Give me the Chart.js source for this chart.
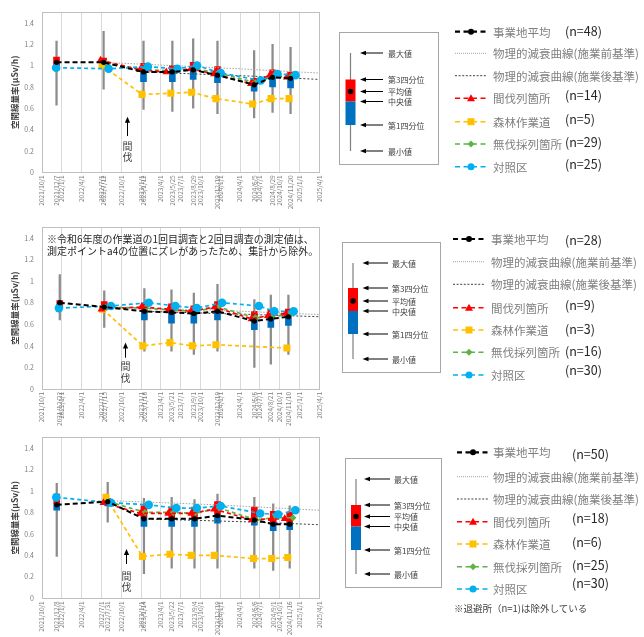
<!DOCTYPE html>
<html lang="ja"><head><meta charset="utf-8">
<script src="https://cdn.jsdelivr.net/npm/chart.js@4/dist/chart.umd.min.js"></script>
<style>
html,body{margin:0;padding:0;background:#fff}
body{width:644px;height:637px;position:relative;overflow:hidden;font-family:"Noto Sans CJK JP","Noto Sans",sans-serif}
canvas{position:absolute;left:0}
#note{position:absolute;left:47px;top:233px;font-size:10px;line-height:11.7px;color:#262626;white-space:nowrap}
#over{position:absolute;left:0;top:0;width:644px;height:637px;pointer-events:none}
</style></head><body>
<canvas id="c1" width="330" height="215" style="top:0"></canvas>
<canvas id="c2" width="330" height="212" style="top:215px"></canvas>
<canvas id="c3" width="330" height="212" style="top:425px"></canvas>
<div id="note"></div>
<div id="over"></div>
<script>
// ---------- data ----------
const quarterTicks = ['2021/10/1','2022/1/1','2022/4/1','2022/7/1','2022/10/1','2023/1/1','2023/4/1','2023/7/1','2023/10/1','2024/1/1','2024/4/1','2024/7/1','2024/10/1','2025/1/1','2025/4/1'];
const yTitle = '空間線量率(μSv/h)';
const thinText = ['間','伐'];
const noteLines = ['※令和6年度の作業道の1回目調査と2回目調査の測定値は、','測定ポイントa4の位置にズレがあったため、集計から除外。'];
const legendNames = ['事業地平均','物理的減衰曲線(施業前基準)','物理的減衰曲線(施業後基準)','間伐列箇所','森林作業道','無伐採列箇所','対照区'];
const boxKeyLabels = ['最大値','第3四分位','平均値','中央値','第1四分位','最小値'];
const footNote = '※退避所（n=1)は除外している';

// panel 1
const p1Dates = ['2021/12/7','2022/7/12','2023/1/12','2023/5/25','2023/8/29','2023/12/19','2024/6/5','2024/8/29','2024/11/20'];
const p1Max  = [1.23,1.32,1.23,1.23,1.25,1.23,1.14,1.20,1.17];
const p1Q3   = [1.08,1.07,1.02,1.00,1.03,0.99,0.88,0.96,0.94];
const p1Med  = [1.00,1.01,0.95,0.94,0.96,0.92,0.82,0.89,0.88];
const p1Q1   = [0.96,0.97,0.85,0.85,0.87,0.84,0.76,0.80,0.79];
const p1Min  = [0.63,0.78,0.59,0.57,0.60,0.55,0.51,0.56,0.55];
const p1Mean = [1.03,1.03,0.94,0.94,0.96,0.91,0.82,0.89,0.88];
const p1ThinDates = ['2022/6/28','2022/12/27','2023/4/27','2023/8/18','2023/12/3','2024/5/21','2024/8/16','2024/11/3'];
const p1Thin = [1.05,0.96,0.94,0.97,0.92,0.83,0.91,0.89];
const p1RoadDates = ['2022/7/5','2023/1/5','2023/5/18','2023/8/22','2023/12/12','2024/5/29','2024/8/22','2024/11/13'];
const p1Road = [1.00,0.73,0.74,0.75,0.69,0.64,0.69,0.69];
const p1NoCutDates = ['2022/7/25','2023/1/18','2023/5/30','2023/9/3','2023/12/24','2024/6/10','2024/9/3','2024/11/25'];
const p1NoCut = [1.02,0.96,0.95,0.97,0.93,0.84,0.90,0.90];
const p1CtrlDates = ['2021/12/5','2022/8/4','2023/2/1','2023/6/17','2023/9/16','2024/1/3','2024/7/5','2024/9/21','2024/12/13'];
const p1Ctrl = [0.98,0.97,0.99,0.97,1.00,0.93,0.86,0.92,0.91];
const p1PreDates = ['2022/7/12','2023/12/19','2025/4/1'];
const p1Pre = [1.03,0.98,0.93];
const p1PostDates = ['2023/1/12','2024/6/5','2025/4/1'];
const p1Post = [0.94,0.90,0.87];
const p1N = ['(n=48)','','','(n=14)','(n=5)','(n=29)','(n=25)'];

// panel 2
const p2Dates = ['2021/12/22','2022/7/15','2023/1/16','2023/5/21','2023/9/1','2023/12/19','2024/6/6','2024/8/21','2024/11/10'];
const p2Max  = [1.06,0.91,0.93,0.92,0.89,0.97,0.83,0.87,0.87];
const p2Q3   = [0.82,0.81,0.80,0.79,0.77,0.81,0.72,0.73,0.74];
const p2Med  = [0.78,0.76,0.72,0.71,0.70,0.73,0.64,0.65,0.67];
const p2Q1   = [0.75,0.73,0.64,0.61,0.61,0.64,0.55,0.57,0.59];
const p2Min  = [0.64,0.57,0.35,0.35,0.32,0.35,0.20,0.23,0.32];
const p2Mean = [0.80,0.76,0.72,0.71,0.70,0.72,0.63,0.65,0.67];
const p2ThinDates = ['2022/7/2','2023/1/3','2023/5/8','2023/8/19','2023/12/6','2024/5/24','2024/8/8','2024/10/28'];
const p2Thin = [0.74,0.76,0.74,0.72,0.76,0.65,0.68,0.70];
const p2RoadDates = ['2022/7/8','2023/1/9','2023/5/14','2023/8/25','2023/12/12','2024/5/30','2024/8/14','2024/11/3'];
const p2Road = [0.74,0.40,0.43,0.40,0.41,null,null,0.38];
const p2NoCutDates = ['2022/7/20','2023/1/21','2023/5/26','2023/9/6','2023/12/24','2024/6/11','2024/8/26','2024/11/15'];
const p2NoCut = [0.76,0.75,0.73,0.72,0.76,0.66,0.67,0.69];
const p2CtrlDates = ['2021/12/18','2022/8/15','2023/2/5','2023/6/8','2023/9/15','2024/1/9','2024/6/27','2024/9/6','2024/12/4'];
const p2Ctrl = [0.75,0.77,0.80,0.77,0.75,0.80,0.77,0.72,0.72];
const p2PreDates = ['2022/7/15','2023/12/19','2025/4/1'];
const p2Pre = [0.76,0.73,0.69];
const p2PostDates = ['2023/1/16','2024/6/6','2025/4/1'];
const p2Post = [0.72,0.69,0.67];
const p2N = ['(n=28)','','','(n=9)','(n=3)','(n=16)','(n=30)'];

// panel 3
const p3Dates = ['2021/12/8','2022/7/31','2023/1/14','2023/5/22','2023/9/4','2023/12/19','2024/6/6','2024/9/1','2024/11/16'];
const p3Max  = [1.07,1.08,0.93,0.94,0.92,0.97,0.94,0.88,0.86];
const p3Q3   = [0.97,0.93,0.86,0.85,0.85,0.90,0.85,0.81,0.80];
const p3Med  = [0.88,0.89,0.76,0.75,0.75,0.78,0.74,0.71,0.71];
const p3Q1   = [0.82,0.86,0.67,0.67,0.67,0.70,0.68,0.63,0.64];
const p3Min  = [0.39,0.71,0.23,0.28,0.28,0.28,0.28,0.26,0.28];
const p3Mean = [0.87,0.90,0.74,0.74,0.74,0.77,0.73,0.69,0.69];
const p3ThinDates = ['2022/7/11','2022/12/28','2023/5/6','2023/8/20','2023/12/4','2024/5/26','2024/8/25','2024/10/24'];
const p3Thin = [0.89,0.79,0.79,0.79,0.83,0.73,0.74,0.74];
const p3RoadDates = ['2022/7/23','2023/1/7','2023/5/14','2023/8/20','2023/12/4','2024/6/2','2024/8/25','2024/11/7'];
const p3Road = [0.94,0.39,0.41,0.40,0.40,0.37,0.37,0.38];
const p3NoCutDates = ['2022/8/4','2023/1/19','2023/5/29','2023/9/4','2023/12/26','2024/6/14','2024/9/3','2024/12/1'];
const p3NoCut = [0.90,0.80,0.80,0.79,0.84,0.73,0.75,0.75];
const p3CtrlDates = ['2021/12/6','2022/8/15','2023/2/5','2023/6/12','2023/9/15','2024/1/3','2024/7/3','2024/9/24','2024/12/12'];
const p3Ctrl = [0.94,0.89,0.87,0.84,0.84,0.86,0.79,0.78,0.82];
const p3PreDates = ['2022/7/31','2023/12/19','2025/4/1'];
const p3Pre = [0.91,0.87,0.82];
const p3PostDates = ['2023/1/14','2024/6/6','2025/4/1'];
const p3Post = [0.74,0.71,0.685];
const p3N = ['(n=50)','','','(n=18)','(n=6)','(n=25)','(n=30)'];

// 間伐 arrow annotations (date, arrow tip value, arrow tail value, text values)
const p1ThinMark = {date:'2022/10/26', tip:0.52, tail:0.34, c1:0.24, c2:0.14};
const p2ThinMark = {date:'2022/10/19', tip:0.43, tail:0.29, c1:0.21, c2:0.10};
const p3ThinMark = {date:'2022/10/25', tip:0.46, tail:0.32, c1:0.21, c2:0.10};

// ---------- helpers ----------
const COL = {mean:'#000000', pre:'#a6a6a6', post:'#404040', thin:'#ff0000', road:'#ffc000', nocut:'#5fb246', ctrl:'#00b0f0', hi:'#ff0000', lo:'#0070c0', whisker:'#8c8c8c'};
const D = s => { const [y,m,d] = s.split('/').map(Number); return Math.round(Date.UTC(y,m-1,d)/864e5); };
const XMIN = D(quarterTicks[0]), XMAX = D(quarterTicks[quarterTicks.length-1]);
const pts = (ds, vs) => ds.map((s,i)=>({x:D(s), y:vs[i]}));
const rng = (ds, lo, hi) => ds.map((s,i)=>({x:D(s), y:[lo[i],hi[i]]}));
const qSet = new Set(quarterTicks.map(D));

Chart.defaults.font.family = '"Noto Sans CJK JP","Noto Sans",sans-serif';

const plotFrame = { id:'plotFrame', beforeDatasetsDraw(c){ const a=c.chartArea, x=c.ctx; x.save(); x.strokeStyle='#bfbfbf'; x.lineWidth=1;
  x.strokeRect(Math.round(a.left)+0.5, Math.round(a.top)+0.5, Math.round(a.right)-Math.round(a.left), Math.round(a.bottom)-Math.round(a.top)); x.restore(); } };
const thinMark = { id:'thinMark', afterDatasetsDraw(c, args, o){ if(!o || !o.date) return;
  const xs=c.scales.x, ys=c.scales.y, ctx=c.ctx; const x=Math.round(xs.getPixelForValue(D(o.date)))+0.5;
  const yt=ys.getPixelForValue(o.tip), yb=ys.getPixelForValue(o.tail);
  ctx.save(); ctx.strokeStyle='#000'; ctx.lineWidth=1; ctx.beginPath(); ctx.moveTo(x,yb); ctx.lineTo(x,yt+4); ctx.stroke();
  ctx.fillStyle='#000'; ctx.beginPath(); ctx.moveTo(x,yt); ctx.lineTo(x-2.6,yt+6); ctx.lineTo(x+2.6,yt+6); ctx.closePath(); ctx.fill();
  ctx.fillStyle='#404040'; ctx.font='10px "Noto Sans CJK JP"'; ctx.textAlign='center'; ctx.textBaseline='middle';
  ctx.fillText(thinText[0], x, ys.getPixelForValue(o.c1)); ctx.fillText(thinText[1], x, ys.getPixelForValue(o.c2)); ctx.restore(); } };

function lineDs(label, data, color, style, radius, order, extra){
  return Object.assign({type:'line', label, data, borderColor:color, backgroundColor:color, borderWidth:1.7, borderDash:[4,3],
    pointStyle:style, pointRadius:radius, pointBorderWidth:0, pointBackgroundColor:color, fill:false, tension:0, order, spanGaps:true}, extra||{});
}

function build(id, P, L){
  const tickDays = Array.from(new Set([...quarterTicks.map(D), ...P.dates.map(D)])).sort((a,b)=>a-b);
  const lab = new Map(); quarterTicks.forEach(s=>lab.set(D(s), s)); P.dates.forEach(s=>lab.set(D(s), s));
  return new Chart(document.getElementById(id), {
    type:'bar',
    data:{ datasets:[
      {type:'bar', label:'range', data:rng(P.dates,P.min,P.max), backgroundColor:COL.whisker, barThickness:1.6, grouped:false, borderWidth:0, order:12},
      {type:'bar', label:'lower', data:rng(P.dates,P.q1,P.med), backgroundColor:COL.lo, barThickness:6, grouped:false, borderWidth:0, order:11},
      {type:'bar', label:'upper', data:rng(P.dates,P.med,P.q3), backgroundColor:COL.hi, barThickness:6, grouped:false, borderWidth:0, order:10},
      lineDs(legendNames[1], pts(P.preDates,P.pre), COL.pre, 'circle', 0, 7, {borderWidth:1, borderDash:[1.5,1.5]}),
      lineDs(legendNames[2], pts(P.postDates,P.post), COL.post, 'circle', 0, 6, {borderWidth:1, borderDash:[2,2]}),
      lineDs(legendNames[4], pts(P.roadDates,P.road), COL.road, 'rect', 5, 5),
      lineDs(legendNames[5], pts(P.noCutDates,P.noCut), COL.nocut, 'rectRot', 3.5, 4),
      lineDs(legendNames[3], pts(P.thinDates,P.thin), COL.thin, 'triangle', 4.5, 3),
      lineDs(legendNames[6], pts(P.ctrlDates,P.ctrl), COL.ctrl, 'circle', 4.3, 2),
      lineDs(legendNames[0], pts(P.dates,P.mean), COL.mean, 'circle', 2.6, 1, {borderWidth:2, borderDash:[5,3]})
    ]},
    options:{
      responsive:false, animation:false, events:[],
      layout:{padding:L.pad},
      plugins:{legend:{display:false}, tooltip:{enabled:false}, thinMark:P.mark},
      scales:{
        x:{type:'linear', min:XMIN, max:XMAX, offset:false,
           grid:{offset:false, drawTicks:false, color:c=> (c.tick && qSet.has(c.tick.value)) ? '#d9d9d9' : 'rgba(0,0,0,0)'},
           border:{display:false},
           afterBuildTicks:s=>{ s.ticks = tickDays.map(v=>({value:v})); },
           afterFit:s=>{ s.height = L.xh; },
           ticks:{autoSkip:false, minRotation:90, maxRotation:90, padding:3, color:'#7f7f7f', font:{size:6.5}, callback:v=>lab.get(v)||''}},
        y:{min:0, max:1.5, grid:{display:false, drawTicks:false}, border:{display:false},
           afterBuildTicks:s=>{ s.ticks = s.ticks.filter(t=>t.value<1.45); },
           afterFit:s=>{ s.width = 42; },
           ticks:{stepSize:0.2, padding:8, color:'#7f7f7f', font:{size:7}, callback:v=>String(+(+v).toFixed(1))},
           title:{display:true, text:yTitle, color:'#404040', font:{size:8.5, weight:'bold'}, padding:{top:10,bottom:0}}}
      }
    },
    plugins:[plotFrame, thinMark]
  });
}

build('c1', {dates:p1Dates,max:p1Max,q3:p1Q3,med:p1Med,q1:p1Q1,min:p1Min,mean:p1Mean,thinDates:p1ThinDates,thin:p1Thin,roadDates:p1RoadDates,road:p1Road,noCutDates:p1NoCutDates,noCut:p1NoCut,ctrlDates:p1CtrlDates,ctrl:p1Ctrl,preDates:p1PreDates,pre:p1Pre,postDates:p1PostDates,post:p1Post,mark:p1ThinMark},
  {pad:{left:0,right:6.7,top:6.7,bottom:0.7}, xh:42});
build('c2', {dates:p2Dates,max:p2Max,q3:p2Q3,med:p2Med,q1:p2Q1,min:p2Min,mean:p2Mean,thinDates:p2ThinDates,thin:p2Thin,roadDates:p2RoadDates,road:p2Road,noCutDates:p2NoCutDates,noCut:p2NoCut,ctrlDates:p2CtrlDates,ctrl:p2Ctrl,preDates:p2PreDates,pre:p2Pre,postDates:p2PostDates,post:p2Post,mark:p2ThinMark},
  {pad:{left:0,right:7,top:10.8,bottom:0}, xh:38});
build('c3', {dates:p3Dates,max:p3Max,q3:p3Q3,med:p3Med,q1:p3Q1,min:p3Min,mean:p3Mean,thinDates:p3ThinDates,thin:p3Thin,roadDates:p3RoadDates,road:p3Road,noCutDates:p3NoCutDates,noCut:p3NoCut,ctrlDates:p3CtrlDates,ctrl:p3Ctrl,preDates:p3PreDates,pre:p3Pre,postDates:p3PostDates,post:p3Post,mark:p3ThinMark},
  {pad:{left:0,right:6.7,top:7.3,bottom:0.7}, xh:38});

document.getElementById('note').innerHTML = noteLines.join('<br>');

// ---------- legends (box key + series key) ----------
const legendKinds = ['mean','pre','post','thin','road','nocut','ctrl'];
const keys = [
  {fx:339, fy:32, fw:99, fh:132, wx:350.5, ys:[53,79.5,91.5,101.5,125,151], tip:360, tail:383, lx:388},
  {fx:342, fy:242, fw:98, fh:130, wx:353, ys:[263,288,301,311,334,359], tip:362.5, tail:388, lx:392},
  {fx:345, fy:458, fw:96, fh:129, wx:356, ys:[479,505,516.5,526.5,550,574], tip:364, tail:390, lx:394}
];
const legs = [
  {sx:455, tx:493, ys:[31.7,53.3,75.7,98.3,121.7,144,166.7], nx:565, nys:[30,0,0,94.3,118.3,141.7,163.3], n:p1N},
  {sx:453, tx:491, ys:[239,261.7,284.3,307.7,330,352.3,375], nx:565, nys:[239,0,0,304.3,328.3,350,369.3], n:p2N},
  {sx:457, tx:493, ys:[452.3,476.7,499,521.7,544,566.7,589], nx:572, nys:[453.3,0,0,517.7,541.7,564.3,582.7], n:p3N}
];
function boxKey(K){
  let s = `<rect x="${K.fx+.5}" y="${K.fy+.5}" width="${K.fw}" height="${K.fh}" fill="none" stroke="#a6a6a6" stroke-width="1"/>`;
  s += `<line x1="${K.wx}" y1="${K.ys[0]}" x2="${K.wx}" y2="${K.ys[5]}" stroke="#7f7f7f" stroke-width="1.2"/>`;
  s += `<rect x="${K.wx-5}" y="${K.ys[1]}" width="10" height="${K.ys[3]-K.ys[1]}" fill="${COL.hi}"/>`;
  s += `<rect x="${K.wx-5}" y="${K.ys[3]}" width="10" height="${K.ys[4]-K.ys[3]}" fill="${COL.lo}"/>`;
  s += `<circle cx="${K.wx}" cy="${K.ys[2]}" r="2.8" fill="#000"/>`;
  K.ys.forEach((y,i)=>{
    s += `<line x1="${K.tip+4}" y1="${y}" x2="${K.tail}" y2="${y}" stroke="#000" stroke-width="1"/>`;
    s += `<polygon points="${K.tip},${y} ${K.tip+6},${y-2.3} ${K.tip+6},${y+2.3}" fill="#000"/>`;
    s += `<text x="${K.lx}" y="${y}" font-size="8" fill="#404040" dominant-baseline="central">${boxKeyLabels[i]}</text>`;
  });
  return s;
}
function sample(kind, x, y){
  const c = COL[kind], cx = x+16;
  if (kind==='pre') return `<line x1="${x}" y1="${y}" x2="${x+32}" y2="${y}" stroke="${c}" stroke-width="1" stroke-dasharray="1 1"/>`;
  if (kind==='post') return `<line x1="${x}" y1="${y}" x2="${x+32}" y2="${y}" stroke="${c}" stroke-width="1" stroke-dasharray="2 1.6"/>`;
  let s = `<line x1="${x}" y1="${y}" x2="${x+32}" y2="${y}" stroke="${c}" stroke-width="${kind==='mean'?2.2:1.5}" stroke-dasharray="5 3.5"/>`;
  if (kind==='mean') s += `<circle cx="${cx}" cy="${y}" r="3" fill="${c}"/>`;
  if (kind==='ctrl') s += `<circle cx="${cx}" cy="${y}" r="3.5" fill="${c}"/>`;
  if (kind==='thin') s += `<polygon points="${cx},${y-4} ${cx-4},${y+3} ${cx+4},${y+3}" fill="${c}"/>`;
  if (kind==='road') s += `<rect x="${cx-3.5}" y="${y-3.5}" width="7" height="7" fill="${c}"/>`;
  if (kind==='nocut') s += `<polygon points="${cx},${y-3.5} ${cx+3.5},${y} ${cx},${y+3.5} ${cx-3.5},${y}" fill="${c}"/>`;
  return s;
}
function legend(Lg){
  let s = '';
  legendNames.forEach((name,i)=>{
    s += sample(legendKinds[i], Lg.sx, Lg.ys[i]);
    s += `<text x="${Lg.tx}" y="${Lg.ys[i]}" font-size="11.5" fill="#7f7f7f" dominant-baseline="central">${name}</text>`;
    if (Lg.n[i]) s += `<text x="${Lg.nx}" y="${Lg.nys[i]}" font-size="12.5" fill="#262626" dominant-baseline="central">${Lg.n[i]}</text>`;
  });
  return s;
}
let svg = `<svg xmlns="http://www.w3.org/2000/svg" width="644" height="637" font-family='"Noto Sans CJK JP","Noto Sans",sans-serif'>`;
keys.forEach(k=> svg += boxKey(k));
legs.forEach(l=> svg += legend(l));
svg += `<text x="454" y="607.7" font-size="9.5" fill="#404040" dominant-baseline="central">${footNote}</text>`;
svg += `</svg>`;
document.getElementById('over').innerHTML = svg;
</script>
</body></html>
